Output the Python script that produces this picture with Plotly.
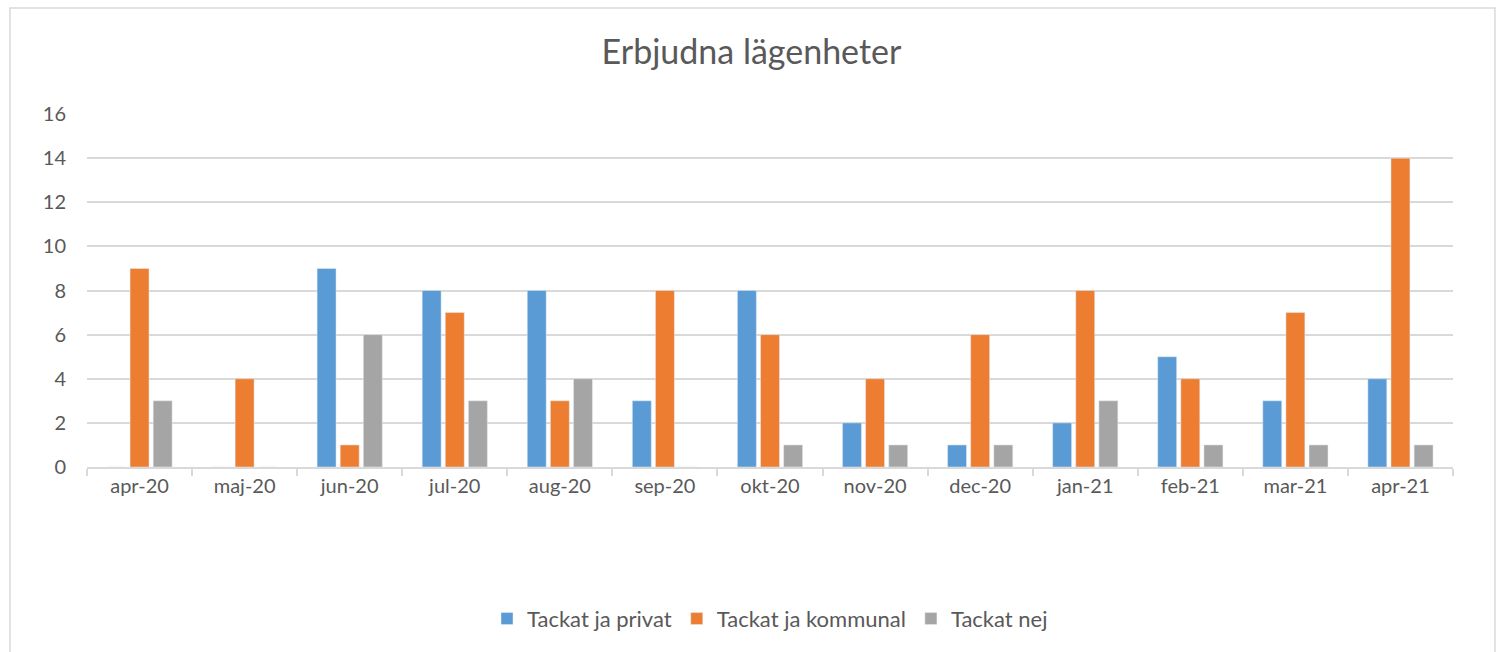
import plotly.graph_objects as go

categories = ["apr-20", "maj-20", "jun-20", "jul-20", "aug-20", "sep-20", "okt-20",
              "nov-20", "dec-20", "jan-21", "feb-21", "mar-21", "apr-21"]
privat = [0, 0, 9, 8, 8, 3, 8, 2, 1, 2, 5, 3, 4]
kommunal = [9, 4, 1, 7, 3, 8, 6, 4, 6, 8, 4, 7, 14]
nej = [3, 0, 6, 3, 4, 0, 1, 1, 1, 3, 1, 1, 1]
y_ticks = [0, 2, 4, 6, 8, 10, 12, 14, 16]

FONT = "Lato, Carlito, Calibri, sans-serif"
TXT = "#595959"
GRID = "#D9D9D9"

fig = go.Figure()
fig.add_trace(go.Bar(name="Tackat ja privat", x=categories, y=privat, marker_color="#5B9BD5"))
fig.add_trace(go.Bar(name="Tackat ja kommunal", x=categories, y=kommunal, marker_color="#ED7D31"))
fig.add_trace(go.Bar(name="Tackat nej", x=categories, y=nej, marker_color="#A5A5A5"))

fig.update_layout(
    width=1503, height=652,
    margin=dict(l=87, r=50, t=114, b=185),
    paper_bgcolor="white", plot_bgcolor="white",
    barmode="group", bargap=0.34, bargroupgap=0.18,
    font=dict(family=FONT, color=TXT, size=20),
    title=dict(text="Erbjudna lägenheter", x=0.5, xanchor="center", y=0.92, yanchor="middle",
               font=dict(family=FONT, size=34, color=TXT)),
    legend=dict(orientation="h", x=0.5, xanchor="center", y=-0.43, yanchor="middle",
                font=dict(size=22, color=TXT), itemwidth=30, traceorder="normal"),
    xaxis=dict(showgrid=False, showline=True, linecolor=GRID, linewidth=1.5,
               ticks="outside", tickson="boundaries", ticklen=7, tickcolor=GRID, tickwidth=1.5,
               tickfont=dict(size=20, color=TXT), fixedrange=True),
    yaxis=dict(range=[0, 16], tickvals=y_ticks, showgrid=True, gridcolor=GRID, gridwidth=1.5,
               zeroline=False, showline=False, ticks="", ticklabelstandoff=20,
               tickfont=dict(size=20, color=TXT), fixedrange=True),
    shapes=[dict(type="rect", xref="paper", yref="paper",
                 x0=-0.0564, x1=1.0307, y0=-0.6, y1=1.300,
                 line=dict(color="#D9D9D9", width=1.5), fillcolor="rgba(0,0,0,0)", layer="below")],
)

fig.write_html("out.html", config={"displayModeBar": False},
               post_script="document.body.style.margin='0';document.body.style.overflow='hidden';")
